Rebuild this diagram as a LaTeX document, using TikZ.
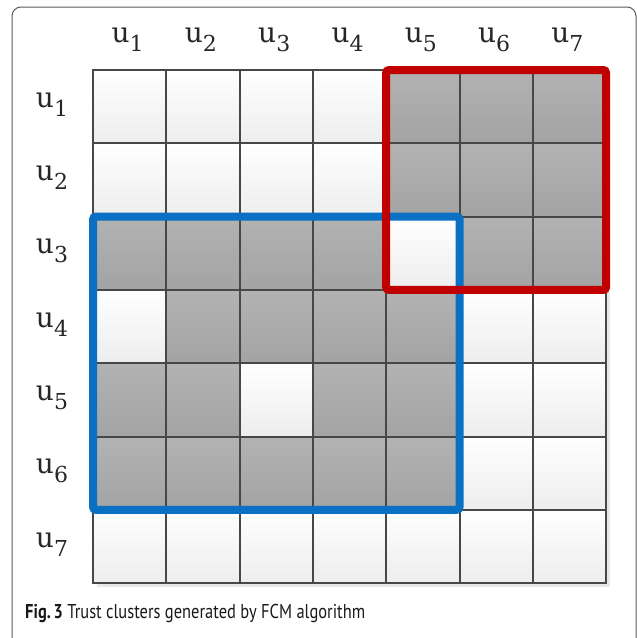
\documentclass[tikz,border=0pt]{standalone}
\usepackage{fontspec}
\usepackage{graphicx}
\newfontfamily\capfont{PT Sans}
\newfontfamily\labfont{DejaVu Serif}
\definecolor{gridline}{HTML}{474747}
\definecolor{clusterred}{HTML}{C00000}
\definecolor{clusterblue}{HTML}{0A70C4}
\definecolor{framegray}{HTML}{5A5A5A}
\newcommand{\ulab}[1]{u\raisebox{-9pt}{\fontsize{22}{22}\selectfont #1}}
\tikzset{
  cell/.style={draw=gridline, line width=2pt, minimum size=73.3pt, inner sep=0pt, outer sep=0pt},
  shade0/.style={top color=white, bottom color=black!7},
  shade1/.style={top color=black!30, bottom color=black!36},
  lab/.style={inner sep=0pt, font=\labfont\fontsize{28}{28}\selectfont, text=black!85},
  captext/.style={anchor=base west, inner sep=0pt, text=black!90, font=\capfont\fontsize{20}{20}\selectfont},
  clusterbox/.style={line width=8pt, rounded corners=3pt},
  frame/.style={draw=framegray, line width=1pt, rounded corners=9pt},
}
\begin{document}
\begin{tikzpicture}[x=1pt, y=-1pt]
  \useasboundingbox (0,0) rectangle (637,638);
  % panel outline, open at the bottom
  \draw[frame] (12,650) -- (12,7) -- (636,7) -- (636,650);
  % soft shadow under the matrix
  \fill[black!9] (97,74) rectangle (610,587);
  % membership matrix: 1 = same cluster (shaded)
  \foreach \r/\pat in {1/{0,0,0,0,1,1,1},
                       2/{0,0,0,0,1,1,1},
                       3/{1,1,1,1,0,1,1},
                       4/{0,1,1,1,1,0,0},
                       5/{1,1,0,1,1,0,0},
                       6/{1,1,1,1,1,0,0},
                       7/{0,0,0,0,0,0,0}} {
    \foreach \v [count=\c] in \pat {
      \node[cell, shade\v] (c-\r-\c) at ({93+73.3*(\c-0.5)}, {70+73.3*(\r-0.5)}) {};
    }
  }
  % axis labels
  \foreach \i in {1,...,7} {
    \node[lab] (col\i) at ({93+73.3*(\i-0.5)-2}, 40) {\ulab{\i}};
    \node[lab] (row\i) at (52, {70+73.3*(\i-0.5)-2}) {\ulab{\i}};
  }
  % trust clusters
  \draw[clusterbox, clusterblue] (c-3-1.north west) rectangle (c-6-5.south east);
  \draw[clusterbox, clusterred] (c-1-5.north west) rectangle (c-3-7.south east);
  % caption
  \node[captext] (cap) at (25,618)
    {\resizebox{340pt}{\height}{\textbf{Fig.\,3} Trust clusters generated by FCM algorithm}};
\end{tikzpicture}
\end{document}
